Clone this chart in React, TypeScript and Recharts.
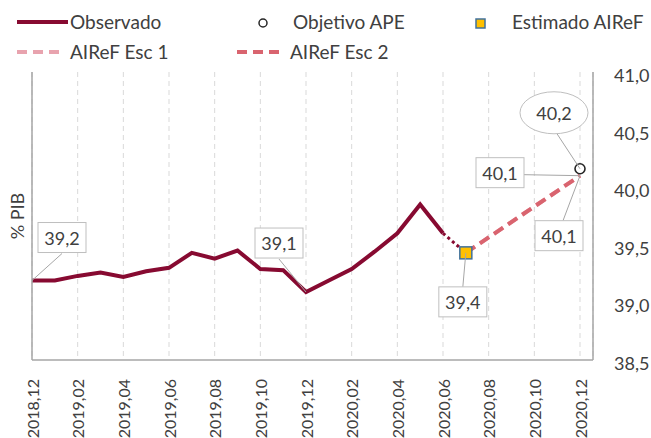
import React from 'react';
import { LineChart, Line, XAxis, YAxis, CartesianGrid, Label } from 'recharts';

const months = [
  '2018,12', '2019,01', '2019,02', '2019,03', '2019,04', '2019,05', '2019,06',
  '2019,07', '2019,08', '2019,09', '2019,10', '2019,11', '2019,12',
  '2020,01', '2020,02', '2020,03', '2020,04', '2020,05', '2020,06',
  '2020,07', '2020,08', '2020,09', '2020,10', '2020,11', '2020,12',
];

const observado = [
  39.19, 39.19, 39.23, 39.26, 39.22, 39.27, 39.3, 39.43, 39.38, 39.45, 39.29, 39.28, 39.09,
  39.19, 39.29, 39.44, 39.6, 39.85, 39.6, null, null, null, null, null, null,
];
// tramo punteado entre el ultimo observado y el estimado
const transicion = [
  null, null, null, null, null, null, null, null, null, null, null, null, null,
  null, null, null, null, null, 39.6, 39.43, null, null, null, null, null,
];
const esc1 = [
  null, null, null, null, null, null, null, null, null, null, null, null, null,
  null, null, null, null, null, null, 39.43, null, null, null, null, 40.1,
];
const esc2 = [
  null, null, null, null, null, null, null, null, null, null, null, null, null,
  null, null, null, null, null, null, 39.43, null, null, null, null, 40.1,
];
const estimado = [
  null, null, null, null, null, null, null, null, null, null, null, null, null,
  null, null, null, null, null, null, 39.43, null, null, null, null, null,
];
const objetivo = [
  null, null, null, null, null, null, null, null, null, null, null, null, null,
  null, null, null, null, null, null, null, null, null, null, null, 40.16,
];

const xTicks = [0, 2, 4, 6, 8, 10, 12, 14, 16, 18, 20, 22, 24];
const yTicks = [38.5, 39, 39.5, 40, 40.5, 41];

const data = months.map((m, i) => ({
  i,
  mes: m,
  observado: observado[i],
  transicion: transicion[i],
  esc1: esc1[i],
  esc2: esc2[i],
  estimado: estimado[i],
  objetivo: objetivo[i],
}));

const FONT = 'Lato, "Open Sans", sans-serif';
const TEXT = '#404040';
const BORDER = '#a6a6a6';
const BOX = '#bfbfbf';

const C_OBS = '#870a31';
const C_ESC1 = '#e8a3ae';
const C_ESC2 = '#d9646f';

type Callout = {
  index: number;
  text: string;
  dx: number;
  dy: number;
  lx: number;
  ly: number;
  ellipse?: boolean;
};

const fmt = (v: number) => v.toFixed(1).replace('.', ',');

const makeLabel = (callouts: Callout[]) => (props: any) => {
  const { x, y, index } = props;
  const c = callouts.find((k) => k.index === index);
  if (!c || x == null || y == null) return <g key={`l-${index}`} />;
  const cx = x + c.dx;
  const cy = y + c.dy;
  return (
    <g key={`l-${index}`}>
      <line x1={x + c.lx} y1={y + c.ly} x2={x} y2={y} stroke={BORDER} strokeWidth={1} />
      {c.ellipse ? (
        <ellipse cx={cx} cy={cy} rx={34} ry={21} fill="#fff" stroke={BOX} strokeWidth={1} />
      ) : (
        <rect x={cx - 24} y={cy - 15} width={48} height={30} fill="#fff" stroke={BOX} strokeWidth={1} />
      )}
      <text x={cx} y={cy} textAnchor="middle" dominantBaseline="central" fontSize={18} fill={TEXT} fontFamily={FONT}>
        {c.text}
      </text>
    </g>
  );
};

const SquareDot = (props: any) => {
  const { cx, cy, value, index } = props;
  if (value == null || cy == null) return <g key={`s-${index}`} />;
  return <rect key={`s-${index}`} x={cx - 6} y={cy - 6} width={12} height={12} fill="#ffc000" stroke="#41719c" strokeWidth={1.5} />;
};

const CircleDot = (props: any) => {
  const { cx, cy, value, index } = props;
  if (value == null || cy == null) return <g key={`c-${index}`} />;
  return <circle key={`c-${index}`} cx={cx} cy={cy} r={5} fill="#fff" stroke="#262626" strokeWidth={1.6} />;
};

const XTick = (props: any) => {
  const { x, y, payload } = props;
  return (
    <text
      x={x}
      y={y}
      transform={`rotate(-90 ${x} ${y})`}
      dx={-11}
      textAnchor="end"
      dominantBaseline="central"
      fontSize={16}
      fill={TEXT}
      fontFamily={FONT}
    >
      {months[payload.value]}
    </text>
  );
};

const YTick = (props: any) => {
  const { x, y, payload } = props;
  return (
    <text x={x} y={y + 3} dx={13} textAnchor="start" dominantBaseline="central" fontSize={18} fill={TEXT} fontFamily={FONT}>
      {fmt(payload.value)}
    </text>
  );
};

const legendText: React.CSSProperties = {
  position: 'absolute',
  fontSize: 19,
  color: TEXT,
  fontFamily: FONT,
  lineHeight: '20px',
  whiteSpace: 'nowrap',
};

const Legend = () => (
  <div style={{ position: 'absolute', left: 0, top: 0, width: 651, height: 64 }}>
    <svg width={651} height={64} style={{ position: 'absolute', left: 0, top: 0 }}>
      <line x1={17} y1={22} x2={68} y2={22} stroke={C_OBS} strokeWidth={4} />
      <circle cx={263} cy={23} r={4} fill="#fff" stroke="#262626" strokeWidth={1.5} />
      <rect x={476} y={19} width={9} height={9} fill="#ffc000" stroke="#41719c" strokeWidth={1.5} />
      <line x1={17} y1={52} x2={62} y2={52} stroke={C_ESC1} strokeWidth={4} strokeDasharray="10 6" />
      <line x1={237} y1={52} x2={282} y2={52} stroke={C_ESC2} strokeWidth={4} strokeDasharray="10 6" />
    </svg>
    <div style={{ ...legendText, left: 70, top: 12 }}>Observado</div>
    <div style={{ ...legendText, left: 293, top: 12 }}>Objetivo APE</div>
    <div style={{ ...legendText, left: 512, top: 12 }}>Estimado AIReF</div>
    <div style={{ ...legendText, left: 70, top: 42 }}>AIReF Esc 1</div>
    <div style={{ ...legendText, left: 290, top: 42 }}>AIReF Esc 2</div>
  </div>
);

export default function App() {
  return (
    <div style={{ position: 'absolute', left: 0, top: 0, width: 651, height: 438, background: '#fff', overflow: 'hidden' }}>
      <LineChart width={651} height={438} data={data} margin={{ top: 72, right: 0, bottom: 0, left: 0 }}>
        <CartesianGrid horizontal={false} stroke="#d9d9d9" strokeDasharray="5 4" />
        <XAxis
          dataKey="i"
          type="number"
          domain={[0, 24]}
          ticks={xTicks}
          padding={{ left: 0, right: 13 }}
          height={78}
          tickLine={false}
          axisLine={{ stroke: BORDER, strokeWidth: 1.5 }}
          tick={<XTick />}
          interval={0}
        />
        <XAxis
          xAxisId="top"
          orientation="top"
          dataKey="i"
          type="number"
          domain={[0, 24]}
          height={0}
          tick={false}
          tickLine={false}
          axisLine={{ stroke: BORDER, strokeWidth: 1.5 }}
        />
        <YAxis
          orientation="right"
          domain={[38.5, 41]}
          ticks={yTicks}
          width={58}
          tickLine={false}
          axisLine={{ stroke: BORDER, strokeWidth: 1.5 }}
          tick={<YTick />}
          interval={0}
        />
        <YAxis
          yAxisId="left"
          orientation="left"
          width={32}
          tick={false}
          tickLine={false}
          axisLine={{ stroke: BORDER, strokeWidth: 1.5 }}
        >
          <Label value="% PIB" angle={-90} position="center" dx={2} fontSize={18} fill={TEXT} fontFamily={FONT} />
        </YAxis>

        <Line
          dataKey="observado"
          stroke={C_OBS}
          strokeWidth={4}
          dot={false}
          activeDot={false}
          isAnimationActive={false}
          label={makeLabel([
            { index: 0, text: '39,2', dx: 30, dy: -43, lx: 30, ly: -27 },
            { index: 12, text: '39,1', dx: -27, dy: -49, lx: -27, ly: -33 },
          ])}
        />
        <Line
          dataKey="transicion"
          stroke={C_OBS}
          strokeWidth={3}
          strokeDasharray="3 3"
          dot={false}
          activeDot={false}
          isAnimationActive={false}
        />
        <Line
          dataKey="esc1"
          stroke={C_ESC1}
          strokeWidth={4}
          strokeDasharray="11 6"
          connectNulls
          dot={false}
          activeDot={false}
          isAnimationActive={false}
          label={makeLabel([{ index: 24, text: '40,1', dx: -80, dy: -3, lx: -56, ly: -1 }])}
        />
        <Line
          dataKey="esc2"
          stroke={C_ESC2}
          strokeWidth={4}
          strokeDasharray="11 6"
          connectNulls
          dot={false}
          activeDot={false}
          isAnimationActive={false}
          label={makeLabel([{ index: 24, text: '40,1', dx: -21, dy: 60, lx: -17, ly: 45 }])}
        />
        <Line
          dataKey="estimado"
          stroke="none"
          dot={<SquareDot />}
          activeDot={false}
          isAnimationActive={false}
          label={makeLabel([{ index: 19, text: '39,4', dx: -3, dy: 49, lx: -3, ly: 34 }])}
        />
        <Line
          dataKey="objetivo"
          stroke="none"
          dot={<CircleDot />}
          activeDot={false}
          isAnimationActive={false}
          label={makeLabel([{ index: 24, text: '40,2', dx: -26, dy: -56, lx: -23, ly: -35, ellipse: true }])}
        />
      </LineChart>
      <Legend />
    </div>
  );
}
